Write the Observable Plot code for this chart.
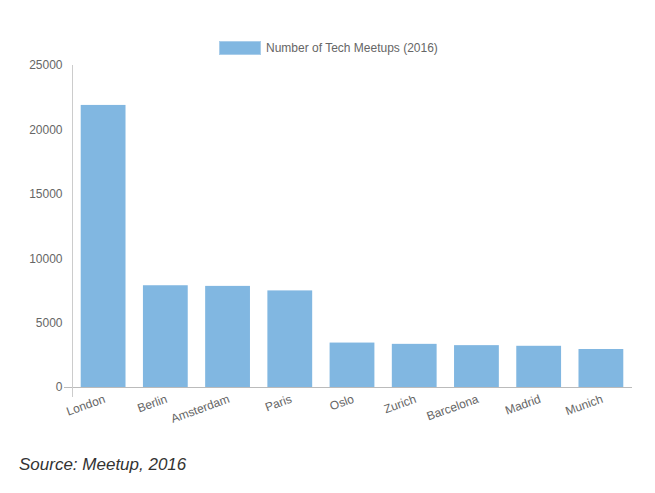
<!DOCTYPE html>
<html>
<head>
<meta charset="utf-8">
<script src="https://cdn.jsdelivr.net/npm/d3@7"></script>
<script src="https://cdn.jsdelivr.net/npm/@observablehq/plot@0.6"></script>
<style>
  html, body { margin: 0; padding: 0; background: #fff; }
  body { width: 655px; height: 493px; position: relative; overflow: hidden; font-family: "Liberation Sans", Arial, sans-serif; }
  #legend { position: absolute; left: 219px; top: 41px; display: flex; align-items: center; font-size: 12px; color: #666; }
  #legend .box { width: 40px; height: 12px; background: #81b7e1; border: 1px solid #a9cdea; margin-right: 5px; box-sizing: content-box; }
  #chart { position: absolute; left: 0; top: 40px; }
  #caption { position: absolute; left: 19px; top: 455px; font-size: 17px; font-style: italic; color: #333; }
</style>
</head>
<body>
<div id="legend"><span class="box"></span><span id="legendText"></span></div>
<div id="chart"></div>
<div id="caption"></div>
<script>
const cities = ["London", "Berlin", "Amsterdam", "Paris", "Oslo", "Zurich", "Barcelona", "Madrid", "Munich"];
const meetups = [21900, 7900, 7850, 7500, 3450, 3350, 3250, 3200, 2950];
const yTicks = [0, 5000, 10000, 15000, 20000, 25000];
const seriesLabel = "Number of Tech Meetups (2016)";
const sourceText = "Source: Meetup, 2016";
const barColor = "#81b7e1";

document.getElementById("legendText").textContent = seriesLabel;
document.getElementById("caption").textContent = sourceText;

const data = cities.map((c, i) => ({city: c, value: meetups[i]}));

const marginLeft = 72, marginTop = 25, marginBottom = 53, marginRight = 23;
const chart = Plot.plot({
  width: 655,
  height: 400,
  marginLeft, marginTop, marginBottom, marginRight,
  style: {fontFamily: "Liberation Sans, Arial, sans-serif", fontSize: "12px", color: "#666", background: "transparent"},
  x: {domain: cities, paddingInner: 0.28, paddingOuter: 0.14, round: false, label: null},
  y: {domain: [0, 25000], label: null},
  marks: [
    Plot.barY(data, {x: "city", y: "value", fill: barColor}),
    Plot.ruleY([0], {stroke: "#bbb", strokeWidth: 1, insetLeft: -8}),
    Plot.axisY({ticks: yTicks, tickSize: 0, tickPadding: 10, tickFormat: d => String(d), fill: "#666", fontSize: 12}),
    Plot.axisX({tickSize: 0, tickPadding: 11, tickRotate: -20, fill: "#666", fontSize: 12, dx: 1})
  ]
});
document.getElementById("chart").appendChild(chart);

// vertical y-axis line, positioned via the plot's own y scale
const ys = chart.scale("y");
d3.select(chart).append("line")
  .attr("x1", marginLeft + 0.5).attr("x2", marginLeft + 0.5)
  .attr("y1", ys.apply(25000)).attr("y2", ys.apply(0) + 10)
  .attr("stroke", "#ccc").attr("stroke-width", 1);
</script>
</body>
</html>
